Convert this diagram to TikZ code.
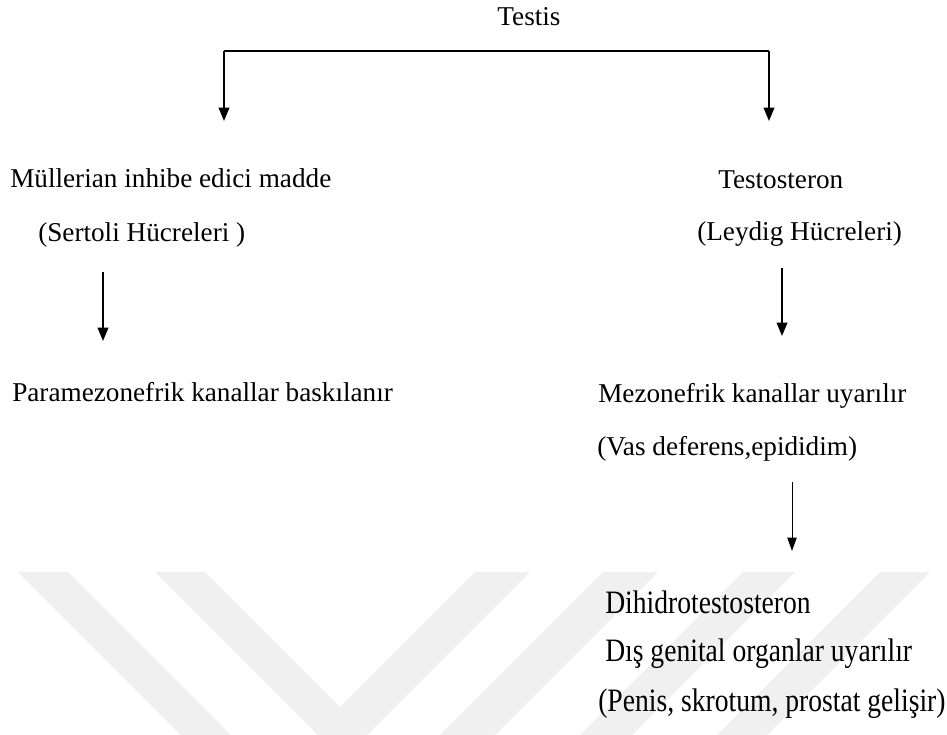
\documentclass[tikz,border=0pt]{standalone}
\usepackage{fontspec}
\setmainfont{Liberation Serif}
\newfontfamily\tallfont{Liberation Serif}[FakeStretch=0.845]
\usetikzlibrary{arrows.meta}
\tikzset{
  lbl/.style={anchor=base west,inner sep=0pt,font=\fontsize{20.4}{24}\selectfont},
  tall/.style={anchor=base west,inner sep=0pt,font=\tallfont\fontsize{24.5}{29}\selectfont},
  arr/.style={line width=1.1pt,-{Triangle[width=8pt,length=10pt]}},
  thinarr/.style={line width=0.7pt,-{Triangle[width=7pt,length=10pt]}}
}
\begin{document}
\begin{tikzpicture}[x=0.75pt,y=-0.75pt]
        \useasboundingbox (0,0) rectangle (947,735);
        \fill[black!6] (18,572)--(68,572)--(231,735)--(181,735)--cycle;
        \fill[black!6] (155,572)--(205,572)--(340,707)--(475,572)--(530,572)--(367,735)--(318,735)--cycle;
        \fill[black!6] (603,572)--(658,572)--(495,735)--(440,735)--cycle;
        \fill[black!6] (743,572)--(795,572)--(632,735)--(580,735)--cycle;
        \fill[black!6] (880,572)--(930,572)--(767,735)--(717,735)--cycle;
        \node[lbl,anchor=base] (testis) at (529,26) {Testis};
        \node[lbl] (mullerian) at (10,187) {Müllerian inhibe edici madde};
        \node[lbl] (sertoli) at (38,241) {(Sertoli Hücreleri )};
        \node[lbl] (paramezo) at (12,401) {Paramezonefrik kanallar baskılanır};
        \node[lbl] (testosteron) at (718,188) {Testosteron};
        \node[lbl] (leydig) at (697,240) {(Leydig Hücreleri)};
        \node[lbl] (mezo) at (598,402) {Mezonefrik kanallar uyarılır};
        \node[lbl] (vas) at (597,455) {(Vas deferens,epididim)};
        \node[tall] (dht) at (605,613) {Dihidrotestosteron};
        \node[tall] (dis) at (605,661) {Dış genital organlar uyarılır};
        \node[tall] (penis) at (598,711) {(Penis, skrotum, prostat gelişir)};
        \coordinate (brL) at (224,51);
        \coordinate (brR) at (769,51);
        \coordinate (tipL) at (224,121);
        \coordinate (tipR) at (769,121);
        \coordinate (sTop) at (103,272);
        \coordinate (sTip) at (103,341);
        \coordinate (lTop) at (782,268);
        \coordinate (lTip) at (782,336);
        \coordinate (vTop) at (792,482);
        \coordinate (vTip) at (792,551);
        \draw[line width=1.1pt] (brL)--(brR);
        \draw[arr] (brL)--(tipL);
        \draw[arr] (brR)--(tipR);
        \draw[arr] (sTop)--(sTip);
        \draw[arr] (lTop)--(lTip);
        \draw[thinarr] (vTop)--(vTip);
    \end{tikzpicture}
\end{document}
